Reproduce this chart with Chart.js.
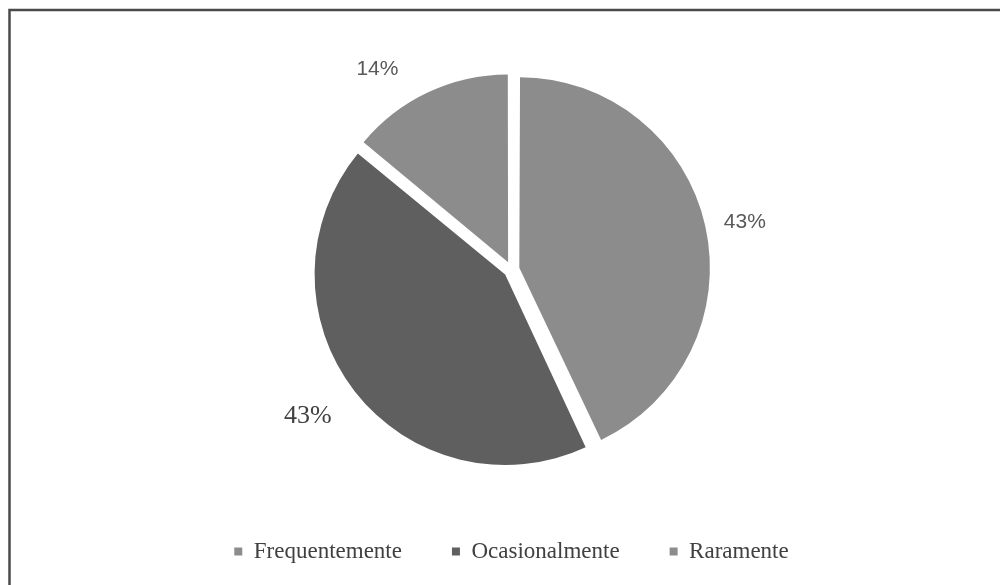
<!DOCTYPE html>
<html>
<head>
<meta charset="utf-8">
<script src="https://cdn.jsdelivr.net/npm/chart.js@4/dist/chart.umd.min.js"></script>
<style>
  html, body { margin: 0; padding: 0; background: #fff; }
  #wrap { width: 1000px; height: 585px; position: relative; }
</style>
</head>
<body>
<div id="wrap"><canvas id="pie-chart"></canvas></div>
<script>
'use strict';

var categories = ['Frequentemente', 'Ocasionalmente', 'Raramente'];
var percents = [43, 43, 14];
var sliceColors = ['#8c8c8c', '#5f5f5f', '#8c8c8c'];
// label fonts differ in the original (two sans, one serif)
var labelFonts = [
    { family: '"Liberation Sans", Arial, sans-serif', size: 21, color: '#595959' },
    { family: '"Liberation Serif", "Times New Roman", serif', size: 26, color: '#404040' },
    { family: '"Liberation Sans", Arial, sans-serif', size: 21, color: '#595959' }
];
// "best fit" placement: gap outside the rim (px) and angle nudge (deg)
var labelGap = [52, 65, 55];
var labelTurn = [1.2, 2, -8.6];

var framePlugin = {
    id: 'frame',
    beforeDraw: function(chart) {
        var ctx = chart.ctx;
        ctx.save();
        ctx.strokeStyle = '#4a4a4a';
        ctx.lineWidth = 2.5;
        ctx.beginPath();
        ctx.moveTo(1010, 10);
        ctx.lineTo(9.5, 10);
        ctx.lineTo(9.5, 600);
        ctx.stroke();
        ctx.restore();
    }
};

var labelPlugin = {
    id: 'sliceLabels',
    afterDatasetsDraw: function(chart) {
        var ctx = chart.ctx;
        var data = chart.data.datasets[0].data;
        var total = data.reduce(function(a, b) { return a + b; }, 0);
        chart.getDatasetMeta(0).data.forEach(function(arc, i) {
            var p = arc.getProps(['x', 'y', 'startAngle', 'endAngle', 'outerRadius'], true);
            var mid = (p.startAngle + p.endAngle) / 2 + labelTurn[i] * Math.PI / 180;
            var r = p.outerRadius + labelGap[i];
            var f = labelFonts[i];
            ctx.save();
            ctx.font = f.size + 'px ' + f.family;
            ctx.fillStyle = f.color;
            ctx.textAlign = 'center';
            ctx.textBaseline = 'middle';
            ctx.fillText(Math.round(data[i] / total * 100) + '%',
                p.x + Math.cos(mid) * r, p.y + Math.sin(mid) * r);
            ctx.restore();
        });
    }
};

var ctx = document.getElementById('pie-chart').getContext('2d');
var pieChart = new Chart(ctx, {
    type: 'pie',
    data: {
        labels: categories,
        datasets: [{
            data: percents,
            backgroundColor: sliceColors,
            borderWidth: 0,
            offset: 32   // arc draws offset/4 -> ~8px explode
        }]
    },
    options: {
        responsive: true,
        maintainAspectRatio: false,
        animation: false,
        radius: 186,
        layout: { padding: { top: 49, left: 23, right: 0, bottom: 12 } },
        plugins: {
            tooltip: { enabled: false },
            legend: {
                position: 'bottom',
                labels: {
                    boxWidth: 8,
                    boxHeight: 8,
                    padding: 50,
                    color: '#404040',
                    font: { family: '"Liberation Serif", "Times New Roman", serif', size: 23 }
                }
            }
        }
    },
    plugins: [framePlugin, labelPlugin]
});
</script>
</body>
</html>
